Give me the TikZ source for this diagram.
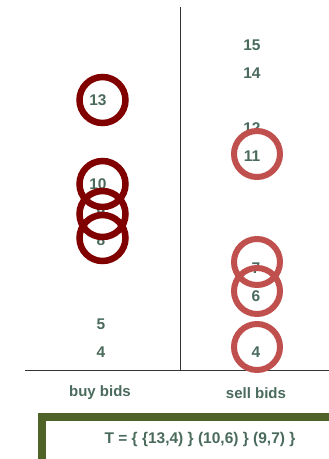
\documentclass[tikz,border=0pt]{standalone}
\usepackage{fontspec}
\setmainfont{Liberation Sans}[BoldFont={Liberation Sans Bold}]
\newfontfamily\arb{Liberation Sans Bold}
\definecolor{txt}{HTML}{4A6A5C}
\definecolor{buyc}{HTML}{800000}
\definecolor{sellc}{HTML}{C0504D}
\definecolor{boxg}{HTML}{4F6228}
\definecolor{axis}{HTML}{333333}
\begin{document}
\begin{tikzpicture}[x=1pt,y=-1pt,
  num/.style={text=txt,font=\arb\fontsize{15.5}{18}\selectfont,inner sep=0pt},
  lbl/.style={text=txt,font=\arb\fontsize{15}{18}\selectfont,inner sep=0pt},
  buyring/.style={circle,draw=buyc,line width=6.5pt,minimum size=46pt,inner sep=0pt},
  sellring/.style={circle,draw=sellc,line width=6pt,minimum size=46pt,inner sep=0pt}]
\useasboundingbox (0,0) rectangle (329,459);
\clip (0,0) rectangle (329,459);
% axes
\coordinate (vtop) at (180,7);
\coordinate (vbot) at (180,370);
\coordinate (hl) at (25,370);
\coordinate (hr) at (330,370);
\draw[axis,line width=1pt] (vtop) -- (vbot);
\draw[axis,line width=1pt] (hl) -- (hr);
% buy numbers
\node[num] (b13) at (98,100) {13};
\node[num] (b10) at (98,184) {10};
\node[num] (b9) at (101,212) {9};
\node[num] (b8) at (101,240) {8};
\node[num] (b5) at (101,324) {5};
\node[num] (b4) at (101,352) {4};
% sell numbers
\node[num] (s15) at (252,45) {15};
\node[num] (s14) at (252,73) {14};
\node[num] (s12) at (252,128) {12};
\node[num] (s11) at (252,156) {11};
\node[num] (s7) at (256,268) {7};
\node[num] (s6) at (256,296) {6};
\node[num] (s4) at (256,352) {4};
% rings
\node[buyring] (r13) at (102.5,100) {};
\node[buyring] (r10) at (102.5,184) {};
\node[buyring] (r9) at (102.5,214) {};
\node[buyring] (r8) at (102.5,238) {};
\node[sellring] (q11) at (257,154) {};
\node[sellring] (q7) at (257,262) {};
\node[sellring] (q6) at (257,291) {};
\node[sellring] (q4) at (257,347) {};
% labels
\node[lbl] (buy) at (100,393) {buy bids};
\node[lbl] (sell) at (256,393) {sell bids};
% box
\draw[boxg,line width=8pt] (41.5,470) -- (41.5,417) -- (340,417);
\node[num] (T) at (200,439) {T = \{ \{13,4) \} (10,6) \} (9,7) \}};
\end{tikzpicture}
\end{document}
